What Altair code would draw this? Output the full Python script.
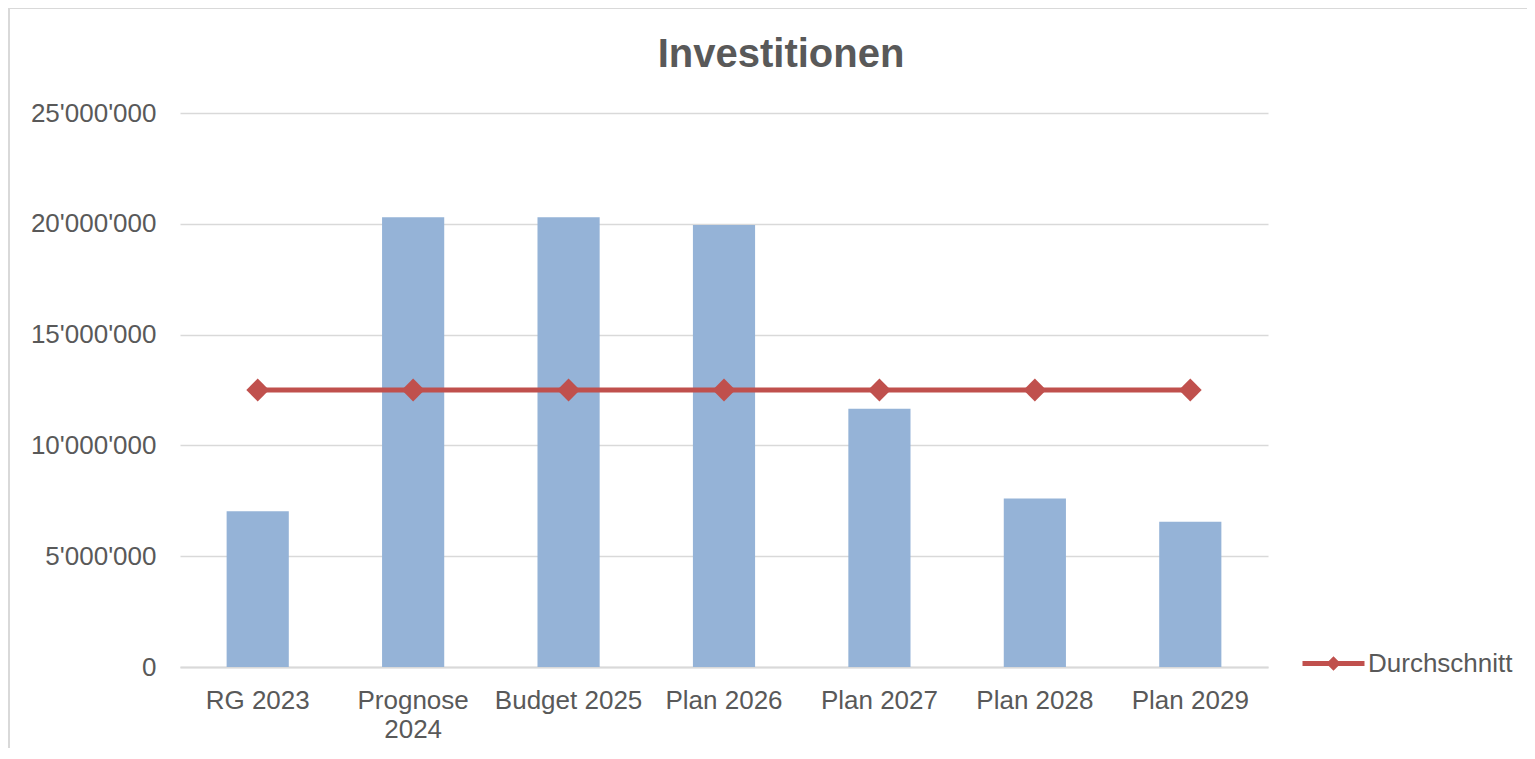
import altair as alt
import pandas as pd

categories = ["RG 2023", "Prognose 2024", "Budget 2025", "Plan 2026",
              "Plan 2027", "Plan 2028", "Plan 2029"]
investitionen = [7030000, 20300000, 20300000, 19950000, 11650000, 7600000, 6560000]
durchschnitt = [12500000, 12500000, 12500000, 12500000, 12500000, 12500000, 12500000]
y_ticks = [0, 5000000, 10000000, 15000000, 20000000, 25000000]
series_name = "Durchschnitt"

df = pd.DataFrame({
    "kategorie": categories,
    "investitionen": investitionen,
    "durchschnitt": durchschnitt,
    "serie": [series_name] * len(categories),
})

FONT = "Liberation Sans"
TXT = "#595959"
GRID = "#d9d9d9"
BAR = "#95b3d7"
RED = "#c0504d"

x_enc = alt.X(
    "kategorie:N", sort=categories,
    scale=alt.Scale(paddingInner=0.6, paddingOuter=0.3),
    axis=alt.Axis(
        title=None, labelAngle=0, ticks=False, domain=True,
        domainColor=GRID, domainWidth=2, labelFontSize=26, labelFont=FONT,
        labelColor=TXT, labelPadding=20, labelLineHeight=29,
        labelExpr="datum.label == 'Prognose 2024' ? ['Prognose', '2024'] : datum.label",
    ),
)

y_scale = alt.Scale(domain=[0, 25000000], nice=False)

bars = alt.Chart(df).mark_bar(color=BAR).encode(
    x=x_enc,
    y=alt.Y(
        "investitionen:Q", scale=y_scale,
        axis=alt.Axis(
            title=None, values=y_ticks, domain=False, ticks=False,
            grid=True, gridColor=GRID, gridWidth=1.5,
            labelFontSize=26, labelFont=FONT, labelColor=TXT, labelPadding=24,
            labelExpr="replace(format(datum.value, ','), regexp(',', 'g'), \"'\")",
        ),
    ),
)

line = alt.Chart(df).mark_line(strokeWidth=5).encode(
    x=alt.X("kategorie:N", sort=categories),
    y=alt.Y("durchschnitt:Q", scale=y_scale),
    color=alt.Color(
        "serie:N", scale=alt.Scale(domain=[series_name], range=[RED]),
        legend=alt.Legend(
            title=None, orient="none", legendX=1120, legendY=517, padding=0,
            labelFontSize=26, labelFont=FONT, labelColor=TXT, labelOffset=1,
            symbolType="M-1,0L1,0M-0.12,0L0,-0.12L0.12,0L0,0.12Z",
            symbolSize=3844, symbolStrokeWidth=5,
            symbolStrokeColor=RED, symbolFillColor=RED,
        ),
    ),
)

points = alt.Chart(df).mark_point(
    shape="diamond", filled=True, size=520, color=RED, opacity=1
).encode(
    x=alt.X("kategorie:N", sort=categories),
    y=alt.Y("durchschnitt:Q", scale=y_scale),
)

frame = alt.Chart(alt.Data(values=[{"f": 1}])).mark_rect(
    fill="white", fillOpacity=0, stroke=GRID, strokeWidth=2
).encode(
    x=alt.value(-171), x2=alt.value(1500),
    y=alt.value(-105), y2=alt.value(800),
)

chart = alt.layer(frame, bars, line, points).properties(
    width=1088, height=554,
    title=alt.TitleParams(
        "Investitionen", fontSize=40, font=FONT, fontWeight="bold",
        color=TXT, anchor="middle", dx=57, dy=100, offset=0,
        baseline="alphabetic",
    ),
    autosize=alt.AutoSizeParams(type="none"),
    padding={"left": 172, "top": 105, "right": 259, "bottom": 81},
).configure_view(stroke=None)

chart.save("out.html", embed_options={"renderer": "svg", "actions": False})
